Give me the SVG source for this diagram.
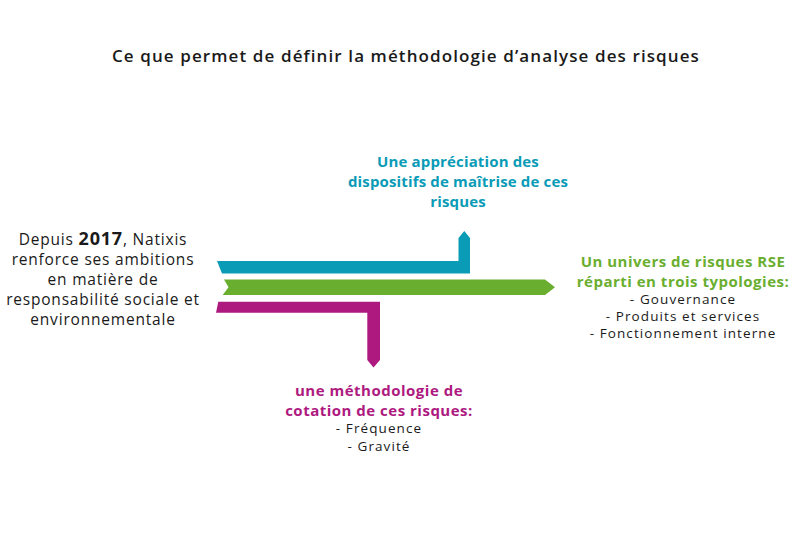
<svg xmlns="http://www.w3.org/2000/svg" width="810" height="535" viewBox="0 0 810 535">
<style>
text{font-family:"Open Sans","Noto Sans","Liberation Sans",sans-serif;text-anchor:middle;fill:#1a1a1a}
.t{font-size:17px;font-weight:600;letter-spacing:1.1px}
.b{font-size:15px;font-weight:700;letter-spacing:0.5px}
.r{font-size:15.5px;letter-spacing:0.8px}
.s{font-size:13.5px;letter-spacing:1.1px}
.blue{fill:#0a9bb7;letter-spacing:0.15px}.green{fill:#6aae2f}.mag{fill:#ae1980}
</style>
<rect width="810" height="535" fill="#fff"/>
<g id="title"><text class="t" x="406" y="62">Ce que permet de définir la méthodologie d’analyse des risques</text></g>
<g id="connectors">
<path class="blue" d="M217,261 L458.5,261 L458.5,238 L464.3,231 L470,238 L470,273.5 L222,273.5 Z"/>
<path class="green" d="M224,279.5 L545,279.5 L555,287.3 L545,295 L222.7,295 L228.5,287.3 Z"/>
<path class="mag" d="M218.3,301.7 L380,301.7 L380,360 L373.5,367.5 L367.3,360 L367.3,312.7 L216,312.7 Z"/>
</g>
<g id="source">
<text class="r" x="103" y="245">Depuis <tspan font-weight="700" font-size="18px">2017</tspan>, Natixis</text>
<text class="r" x="103" y="265">renforce ses ambitions</text>
<text class="r" x="103" y="285">en matière de</text>
<text class="r" x="103" y="305">responsabilité sociale et</text>
<text class="r" x="103" y="325">environnementale</text>
</g>
<g id="appreciation">
<text class="b blue" x="458" y="167">Une appréciation des</text>
<text class="b blue" x="458" y="187">dispositifs de maîtrise de ces</text>
<text class="b blue" x="458" y="207">risques</text>
</g>
<g id="univers">
<text class="b green" x="683" y="267">Un univers de risques RSE</text>
<text class="b green" x="683" y="287">réparti en trois typologies:</text>
<text class="s" x="683" y="304">- Gouvernance</text>
<text class="s" x="683" y="321">- Produits et services</text>
<text class="s" x="683" y="338">- Fonctionnement interne</text>
</g>
<g id="cotation">
<text class="b mag" x="379" y="396">une méthodologie de</text>
<text class="b mag" x="379" y="416">cotation de ces risques:</text>
<text class="s" x="379" y="433">- Fréquence</text>
<text class="s" x="379" y="451">- Gravité</text>
</g>
</svg>
